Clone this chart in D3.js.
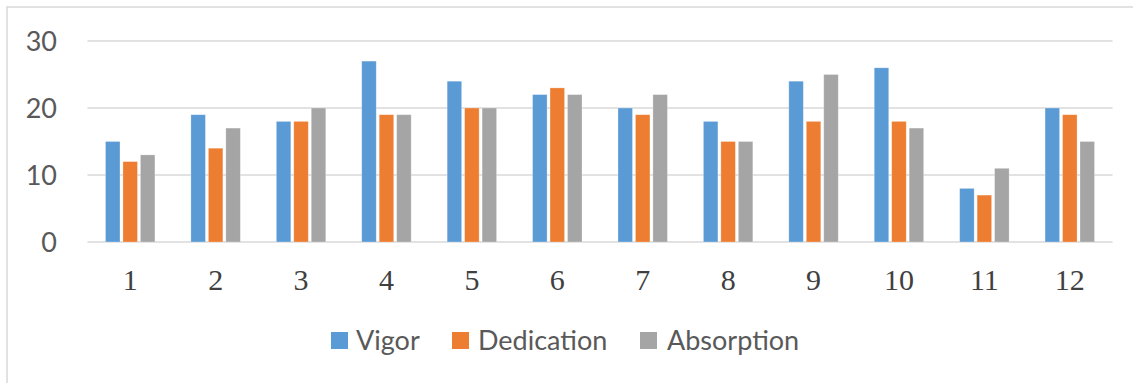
<!DOCTYPE html>
<html>
<head>
<meta charset="utf-8">
<script src="https://cdn.jsdelivr.net/npm/d3@7"></script>
<style>
  html, body { margin: 0; padding: 0; background: #fff; }
  svg { display: block; }
</style>
</head>
<body>
<svg id="chart" width="1133" height="383"></svg>
<script>
// Work engagement scores per respondent
const categories = ["1", "2", "3", "4", "5", "6", "7", "8", "9", "10", "11", "12"];
const seriesNames = ["Vigor", "Dedication", "Absorption"];
const vigor      = [15, 19, 18, 27, 24, 22, 20, 18, 24, 26, 8, 20];
const dedication = [12, 14, 18, 19, 20, 23, 19, 15, 18, 18, 7, 19];
const absorption = [13, 17, 20, 19, 20, 22, 22, 15, 25, 17, 11, 15];
const yTicks = [0, 10, 20, 30];
const colors = ["#5B9BD5", "#ED7D31", "#A5A5A5"];

const seriesValues = [vigor, dedication, absorption];
const rows = categories.map((c, i) => ({
  cat: c,
  values: seriesNames.map((s, k) => ({ key: s, value: seriesValues[k][i] }))
}));

const svg = d3.select("#chart");

// outer chart frame
svg.append("rect")
  .attr("x", 7).attr("y", 7)
  .attr("width", 1140).attr("height", 390)
  .attr("fill", "none")
  .attr("stroke", "#D9D9D9")
  .attr("stroke-width", 1.5);

const plot = { left: 87.5, right: 1112.5, top: 41, bottom: 242 };

const x0 = d3.scaleBand()
  .domain(categories)
  .range([plot.left, plot.right])
  .padding(0);

const x1 = d3.scaleBand()
  .domain(seriesNames)
  .range([0, x0.bandwidth()])
  .paddingInner(0.17)
  .paddingOuter(1.03);

const y = d3.scaleLinear()
  .domain([0, 30])
  .range([plot.bottom, plot.top]);

const color = d3.scaleOrdinal().domain(seriesNames).range(colors);

// horizontal gridlines
svg.append("g")
  .selectAll("line")
  .data(yTicks)
  .join("line")
  .attr("x1", plot.left).attr("x2", plot.right)
  .attr("y1", d => y(d)).attr("y2", d => y(d))
  .attr("stroke", "#D9D9D9")
  .attr("stroke-width", 1.5);

// y axis labels
const yAxis = d3.axisLeft(y).tickValues(yTicks).tickSize(0).tickPadding(0);
const gy = svg.append("g")
  .attr("transform", `translate(57,0)`)
  .call(yAxis);
gy.select(".domain").remove();
gy.selectAll("text")
  .attr("fill", "#595959")
  .attr("font-family", "Lato, 'Open Sans', sans-serif")
  .attr("font-size", 27)
  .attr("dy", "0.36em");

// bars
svg.append("g")
  .selectAll("g")
  .data(rows)
  .join("g")
  .attr("transform", d => `translate(${x0(d.cat)},0)`)
  .selectAll("rect")
  .data(d => d.values)
  .join("rect")
  .attr("x", d => x1(d.key))
  .attr("width", x1.bandwidth())
  .attr("y", d => y(d.value))
  .attr("height", d => y(0) - y(d.value))
  .attr("fill", d => color(d.key))
  .attr("stroke", "#fff")
  .attr("stroke-opacity", 0.35)
  .attr("stroke-width", 0.75);

// x axis labels
const xAxis = d3.axisBottom(x0).tickSize(0).tickPadding(0);
const gx = svg.append("g")
  .attr("transform", `translate(0,${plot.bottom})`)
  .call(xAxis);
gx.select(".domain").remove();
gx.selectAll("text")
  .attr("fill", "#404040")
  .attr("font-family", "'Liberation Serif', 'Times New Roman', serif")
  .attr("font-size", 30)
  .attr("dy", null)
  .attr("y", 48);

// legend
const legendItems = [
  { key: "Vigor", sx: 331, tx: 356 },
  { key: "Dedication", sx: 452, tx: 478 },
  { key: "Absorption", sx: 640, tx: 667 }
];
const legend = svg.append("g");
legend.selectAll("rect")
  .data(legendItems)
  .join("rect")
  .attr("x", d => d.sx).attr("y", 332)
  .attr("width", 17).attr("height", 17)
  .attr("fill", d => color(d.key));
legend.selectAll("text")
  .data(legendItems)
  .join("text")
  .attr("x", d => d.tx).attr("y", 350)
  .attr("fill", "#595959")
  .attr("font-family", "Lato, 'Open Sans', sans-serif")
  .attr("font-size", 27)
  .text(d => d.key);
</script>
</body>
</html>
